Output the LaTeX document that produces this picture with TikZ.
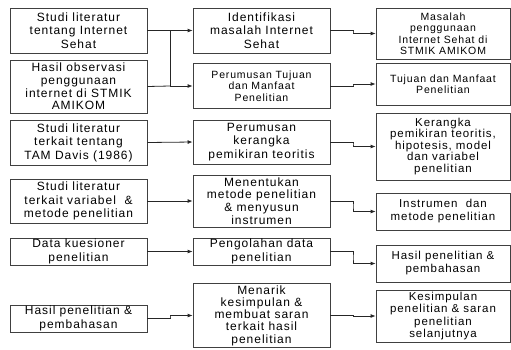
\documentclass[tikz,border=0pt]{standalone}
\usepackage{fontspec}
\setmainfont{Liberation Sans}[LetterSpace=8]
\usetikzlibrary{arrows.meta,calc}
\tikzset{
  box/.style={draw=black!75, line width=0.8pt, align=center, inner sep=0pt,
    font=\fontsize{12}{13.5}\selectfont},
  smallfont/.style={font=\fontsize{10.5}{11.5}\selectfont},
  conn/.style={line width=0.8pt, draw=black!85, -{Latex[length=5pt,width=4pt]}},
  link/.style={line width=0.8pt, draw=black!85},
}
\newcommand{\jog}[2]{\draw[conn] (#1.east) -| ($(#1.east)!0.5!(#2.west)$) |- (#2.west);}
\begin{document}
\begin{tikzpicture}[x=1pt,y=-1pt]
\useasboundingbox (0,0) rectangle (511,349);
% left column
\node[box, minimum width=137pt, minimum height=45pt] (L1) at (78.5,30.5) {Studi literatur\\tentang Internet\\Sehat};
\node[box, minimum width=137pt, minimum height=53pt, font=\fontsize{12}{12.8}\selectfont] (L2) at (78.5,86.5) {Hasil observasi\\penggunaan\\internet di STMIK\\AMIKOM};
\node[box, minimum width=137pt, minimum height=45pt] (L3) at (78.5,142.5) {Studi literatur\\terkait tentang\\TAM Davis (1986)};
\node[box, minimum width=137pt, minimum height=44pt] (L4) at (78.5,201) {Studi literatur\\terkait variabel \ \&\\metode penelitian};
\node[box, minimum width=137pt, minimum height=27pt] (L5) at (78.5,251.5) {Data kuesioner\\penelitian};
\node[box, minimum width=137pt, minimum height=27pt] (L6) at (78.5,318.5) {Hasil penelitian \&\\pembahasan};
% middle column
\node[box, minimum width=137pt, minimum height=45pt] (M1) at (261.5,30.5) {Identifikasi\\masalah Internet\\Sehat};
\node[box, minimum width=137pt, minimum height=45pt, smallfont] (M2) at (261.5,86) {Perumusan Tujuan\\dan Manfaat\\Penelitian};
\node[box, minimum width=137pt, minimum height=44pt] (M3) at (261.5,142) {Perumusan\\kerangka\\pemikiran teoritis};
\node[box, minimum width=137pt, minimum height=52pt, font=\fontsize{12}{12.8}\selectfont] (M4) at (261.5,201) {Menentukan\\metode penelitian\\\& menyusun\\instrumen};
\node[box, minimum width=137pt, minimum height=27pt] (M5) at (261.5,251.5) {Pengolahan data\\penelitian};
\node[box, minimum width=137pt, minimum height=64pt, font=\fontsize{12}{12.2}\selectfont] (M6) at (261.5,315.5) {Menarik\\kesimpulan \&\\membuat saran\\terkait hasil\\penelitian};
% right column
\node[box, minimum width=134pt, minimum height=51pt, smallfont] (R1) at (443,33.5) {Masalah\\penggunaan\\Internet Sehat di\\STMIK AMIKOM};
\node[box, minimum width=134pt, minimum height=42pt, smallfont] (R2) at (443,84) {Tujuan dan Manfaat\\Penelitian};
\node[box, minimum width=134pt, minimum height=67pt, font=\fontsize{11.5}{11.5}\selectfont] (R3) at (443,146.5) {Kerangka\\pemikiran teoritis,\\hipotesis, model\\dan variabel\\penelitian};
\node[box, minimum width=134pt, minimum height=37pt, font=\fontsize{11.5}{13}\selectfont] (R4) at (443,211.5) {Instrumen \ dan\\metode penelitian};
\node[box, minimum width=134pt, minimum height=37pt, font=\fontsize{11.5}{13}\selectfont] (R5) at (443,263.5) {Hasil penelitian \&\\pembahasan};
\node[box, minimum width=134pt, minimum height=52pt, font=\fontsize{11.5}{12.5}\selectfont] (R6) at (443,316) {Kesimpulan\\penelitian \& saran\\penelitian\\selanjutnya};
% junction of first two rows
\coordinate (j1) at (170,30.5);
\coordinate (j2) at (170,86);
\draw[link] (L1.east) -- (j1);
\draw[link] (L2.east) -- (j2);
\draw[link] (j1) -- (j2);
\draw[conn] (j1) -- (M1.west);
\draw[conn] (j2) -- (M2.west);
% left to middle
\draw[conn] (L3.east) -- (M3.west);
\draw[conn] (L4.east) -- (M4.west);
\draw[conn] (L5.east) -- (M5.west);
\jog{L6}{M6}
% middle to right
\jog{M1}{R1}
\jog{M2}{R2}
\jog{M3}{R3}
\jog{M4}{R4}
\jog{M5}{R5}
\jog{M6}{R6}
\end{tikzpicture}
\end{document}
